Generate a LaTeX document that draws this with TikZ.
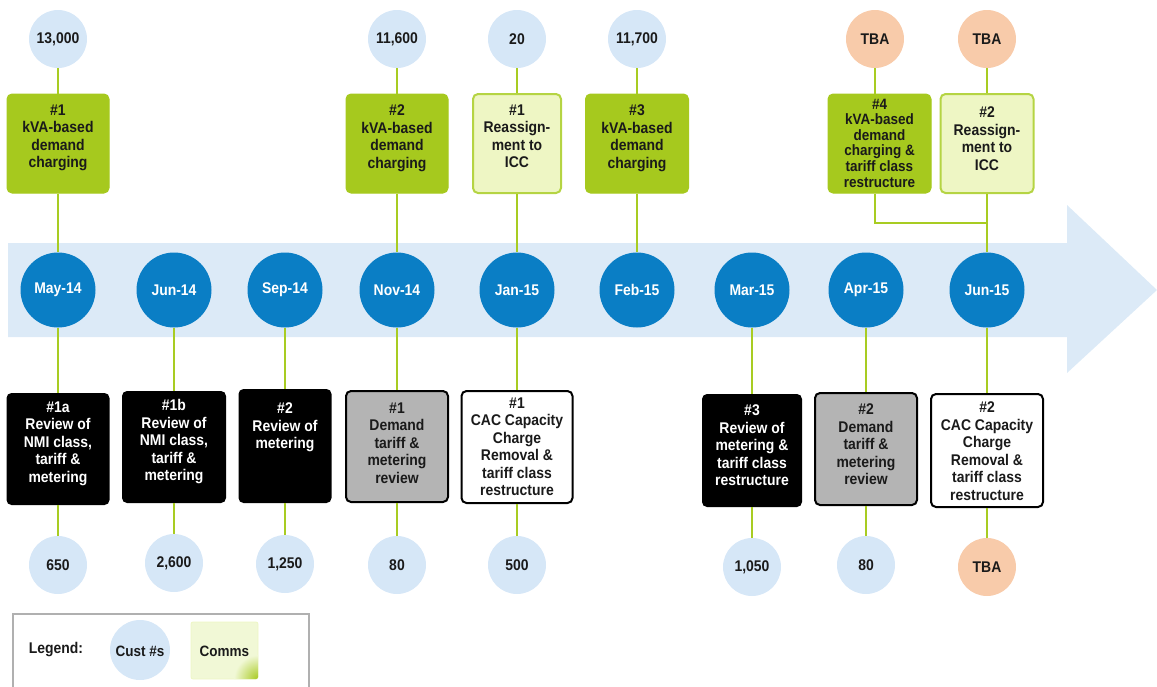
\documentclass[tikz,border=0pt]{standalone}
\usepackage{fontspec}
\setmainfont{Liberation Sans}[FakeStretch=0.9]
\definecolor{arrowblue}{HTML}{DCEAF7}
\definecolor{monthblue}{HTML}{0A7EC5}
\definecolor{custblue}{HTML}{D6E7F7}
\definecolor{tbaorange}{HTML}{F8CBAA}
\definecolor{limeline}{HTML}{A8CC22}
\definecolor{greenbox}{HTML}{A6C91E}
\definecolor{lightgreen}{HTML}{EEF6C4}
\definecolor{lgborder}{HTML}{B5D443}
\definecolor{graybox}{HTML}{B4B4B4}
\definecolor{legendgray}{HTML}{B0B0B0}
\definecolor{textdark}{HTML}{1A1A1A}
\definecolor{commsfill}{HTML}{F1F8D6}
\tikzset{
  every node/.style={font=\bfseries\fontsize{15.5}{17.5}\selectfont, text=textdark},
  sz/.style 2 args={minimum width=#1pt, minimum height=#2pt, inner sep=0pt},
  cust/.style={circle, fill=custblue, minimum size=58pt, inner sep=0pt},
  tba/.style={circle, fill=tbaorange, minimum size=58pt, inner sep=0pt},
  month/.style={circle, fill=monthblue, minimum size=75pt, inner sep=0pt, text=white},
  gbox/.style={rounded corners=5pt, fill=greenbox, draw=greenbox, line width=1pt},
  lgbox/.style={rounded corners=5pt, fill=lightgreen, draw=lgborder, line width=2pt},
  blkbox/.style={rounded corners=5pt, fill=black},
  grybox/.style={rounded corners=5pt, fill=graybox, draw=black, line width=2pt},
  whtbox/.style={rounded corners=5pt, fill=white, draw=black, line width=2pt},
  boxtext/.style={anchor=north, align=center, inner sep=0pt},
  whitetext/.style={boxtext, text=white},
  conn/.style={draw=limeline, line width=2.5pt},
}
\begin{document}
\begin{tikzpicture}[x=1pt,y=-1pt]
\useasboundingbox (0,0) rectangle (1157,686);
% timeline arrow
\fill[arrowblue] (8,243) -- (1067,243) -- (1067,205) -- (1157,290) -- (1067,373) -- (1067,337) -- (8,337) -- cycle;

% top customer circles
\node[cust] (t1) at (58,39) {13,000};
\node[cust] (t4) at (397,39) {11,600};
\node[cust] (t5) at (517,39) {20};
\node[cust] (t6) at (637,39) {11,700};
\node[tba] (t8) at (875,39) {TBA};
\node[tba] (t9) at (987,39) {TBA};

% top comms boxes
\node[gbox, sz={102}{99}] (g1) at (58,143.5) {};
\node[boxtext] (g1t) at (58,104.5) {\#1\\kVA-based\\demand\\charging};
\node[gbox, sz={102}{99}] (g2) at (397,143.5) {};
\node[boxtext] (g2t) at (397,104.5) {\#2\\kVA-based\\demand\\charging};
\node[lgbox, sz={88}{99}] (l1) at (517,143.5) {};
\node[boxtext] (l1t) at (517,104.5) {\#1\\Reassign-\\ment to\\ICC};
\node[gbox, sz={103}{99}] (g3) at (637,143.5) {};
\node[boxtext] (g3t) at (637,104.5) {\#3\\kVA-based\\demand\\charging};
\node[gbox, sz={103}{99}] (g4) at (879.5,143.5) {};
\node[boxtext, font=\bfseries\fontsize{15}{15.6}\selectfont] (g4t) at (879.5,98.5) {\#4\\kVA-based\\demand\\charging \&\\tariff class\\restructure};
\node[lgbox, sz={93}{99}] (l2) at (987,143.5) {};
\node[boxtext] (l2t) at (987,106.5) {\#2\\Reassign-\\ment to\\ICC};

% month circles
\node[month] (m1) at (58,290) {May-14};
\node[month] (m2) at (174,290) {Jun-14};
\node[month] (m3) at (285,290) {Sep-14};
\node[month] (m4) at (397,290) {Nov-14};
\node[month] (m5) at (517,290) {Jan-15};
\node[month] (m6) at (637,290) {Feb-15};
\node[month] (m7) at (752,290) {Mar-15};
\node[month] (m8) at (866,290) {Apr-15};
\node[month] (m9) at (987,290) {Jun-15};

% bottom boxes
\node[blkbox, sz={103}{112}] (b1) at (58,449) {};
\node[whitetext] (b1t) at (58,401.5) {\#1a\\Review of\\NMI class,\\tariff \&\\metering};
\node[blkbox, sz={104}{112}] (b2) at (174,447) {};
\node[whitetext] (b2t) at (174,399.5) {\#1b\\Review of\\NMI class,\\tariff \&\\metering};
\node[blkbox, sz={93}{114}] (b3) at (285,446) {};
\node[whitetext] (b3t) at (285,402.5) {\#2\\Review of\\metering};
\node[grybox, sz={102}{111}] (b4) at (397,446.5) {};
\node[boxtext] (b4t) at (397,402.5) {\#1\\Demand\\tariff \&\\metering\\review};
\node[whtbox, sz={111}{112}] (b5) at (517,447) {};
\node[boxtext] (b5t) at (517,397.5) {\#1\\CAC Capacity\\Charge\\Removal \&\\tariff class\\restructure};
\node[blkbox, sz={100}{113}] (b6) at (752,450.5) {};
\node[whitetext] (b6t) at (752,404.5) {\#3\\Review of\\metering \&\\tariff class\\restructure};
\node[grybox, sz={102}{112}] (b7) at (866,449) {};
\node[boxtext] (b7t) at (866,403.5) {\#2\\Demand\\tariff \&\\metering\\review};
\node[whtbox, sz={112}{113}] (b8) at (987,450.5) {};
\node[boxtext] (b8t) at (987,401.5) {\#2\\CAC Capacity\\Charge\\Removal \&\\tariff class\\restructure};

% bottom customer circles
\node[cust] (c1) at (58,565) {650};
\node[cust] (c2) at (174,563) {2,600};
\node[cust] (c3) at (285,564) {1,250};
\node[cust] (c4) at (397,565) {80};
\node[cust] (c5) at (517,565) {500};
\node[cust] (c7) at (752,567) {1,050};
\node[cust] (c8) at (866,565) {80};
\node[tba] (c9) at (987,567) {TBA};

% connectors (top)
\draw[conn] (t1) -- (g1);
\draw[conn] (g1) -- (m1);
\draw[conn] (t4) -- (g2);
\draw[conn] (g2) -- (m4);
\draw[conn] (t5) -- (l1);
\draw[conn] (l1) -- (m5);
\draw[conn] (t6) -- (g3);
\draw[conn] (g3) -- (m6);
\draw[conn] (t8) -- (t8 |- g4.north);
\coordinate (jn) at (987,223);
\draw[conn] (g4.south -| t8) |- (jn);
\draw[conn] (t9) -- (l2);
\draw[conn] (l2) -- (m9);
% connectors (bottom)
\draw[conn] (m1) -- (b1);
\draw[conn] (b1) -- (c1);
\draw[conn] (m2) -- (b2);
\draw[conn] (b2) -- (c2);
\draw[conn] (m3) -- (b3);
\draw[conn] (b3) -- (c3);
\draw[conn] (m4) -- (b4);
\draw[conn] (b4) -- (c4);
\draw[conn] (m5) -- (b5);
\draw[conn] (b5) -- (c5);
\draw[conn] (m7) -- (b6);
\draw[conn] (b6) -- (c7);
\draw[conn] (m8) -- (b7);
\draw[conn] (b7) -- (c8);
\draw[conn] (m9) -- (b8);
\draw[conn] (b8) -- (c9);

% legend
\draw[legendgray, line width=2.5pt] (13,690) -- (13,614) -- (309,614) -- (309,690);
\node (leg) at (56,650) {Legend:};
\node[cust, minimum size=60pt] (lc) at (140,650) {};
\node[font=\bfseries\fontsize{15}{16}\selectfont] (lct) at (140,651) {Cust \#s};
\node[sz={67}{57}, rounded corners=2pt, fill=commsfill, draw=lightgreen, line width=0.8pt] (lm) at (224.5,650.5) {};
\begin{scope}
  \clip[rounded corners=2pt] (191,622) rectangle (258,679);
  \shade[inner color=greenbox, outer color=commsfill] (258pt,-679pt) circle (24pt);
\end{scope}
\node[font=\bfseries\fontsize{15}{16}\selectfont] (lmt) at (224.5,651) {Comms};
\end{tikzpicture}
\end{document}
